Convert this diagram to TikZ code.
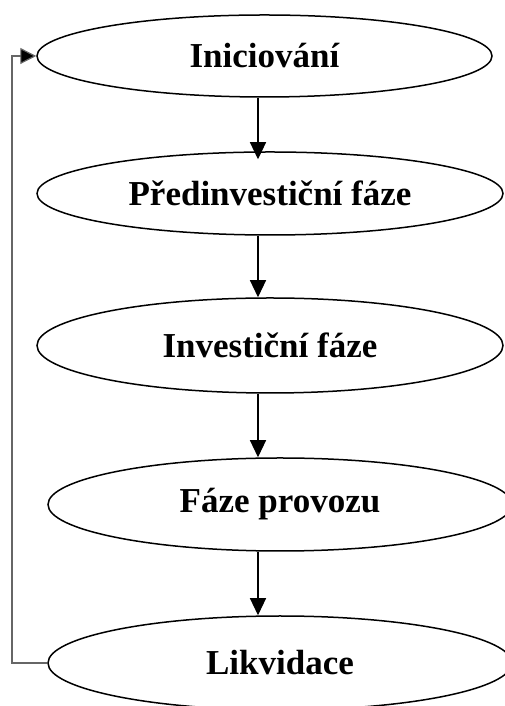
\documentclass[tikz,border=0pt]{standalone}
\usepackage{fontspec}
\setmainfont{Liberation Serif}
\usetikzlibrary{shapes.geometric,arrows.meta}
\begin{document}
\begin{tikzpicture}[x=1pt,y=1pt,
  phase/.style={ellipse,draw=black,line width=1.5pt,inner sep=0pt,
    font=\fontsize{35}{40}\selectfont\bfseries},
  flow/.style={line width=1.2pt,-{Triangle[length=17pt,width=16pt]}},
  back/.style={line width=1.2pt,draw=black!60,-{Triangle[length=16pt,width=16pt,fill=black]}}]
\useasboundingbox (0,0) rectangle (505,706);
\node[phase,minimum width=455pt,minimum height=82pt] (e1) at (264.5,650) {Iniciování};
\node[phase,minimum width=466pt,minimum height=83pt] (e2) at (270,512.5) {Předinvestiční fáze};
\node[phase,minimum width=466pt,minimum height=95pt] (e3) at (270,360.5) {Investiční fáze};
\node[phase,minimum width=464pt,minimum height=93pt] (e4) at (280,201.5) {Fáze provozu};
\node[phase,minimum width=464pt,minimum height=94pt] (e5) at (280,43) {Likvidace};
\coordinate (ax) at (258,0);
\coordinate (lx) at (12,0);
\draw[flow,shorten >=-8pt] (e1.south -| ax) -- (e2.north -| ax);
\draw[flow] (e2.south -| ax) -- (e3.north -| ax);
\draw[flow] (e3.south -| ax) -- (e4.north -| ax);
\draw[flow] (e4.south -| ax) -- (e5.north -| ax);
\draw[back] (e5.west) -- (e5.west -| lx) -- (e1.west -| lx) -- (e1.west);
\end{tikzpicture}
\end{document}
